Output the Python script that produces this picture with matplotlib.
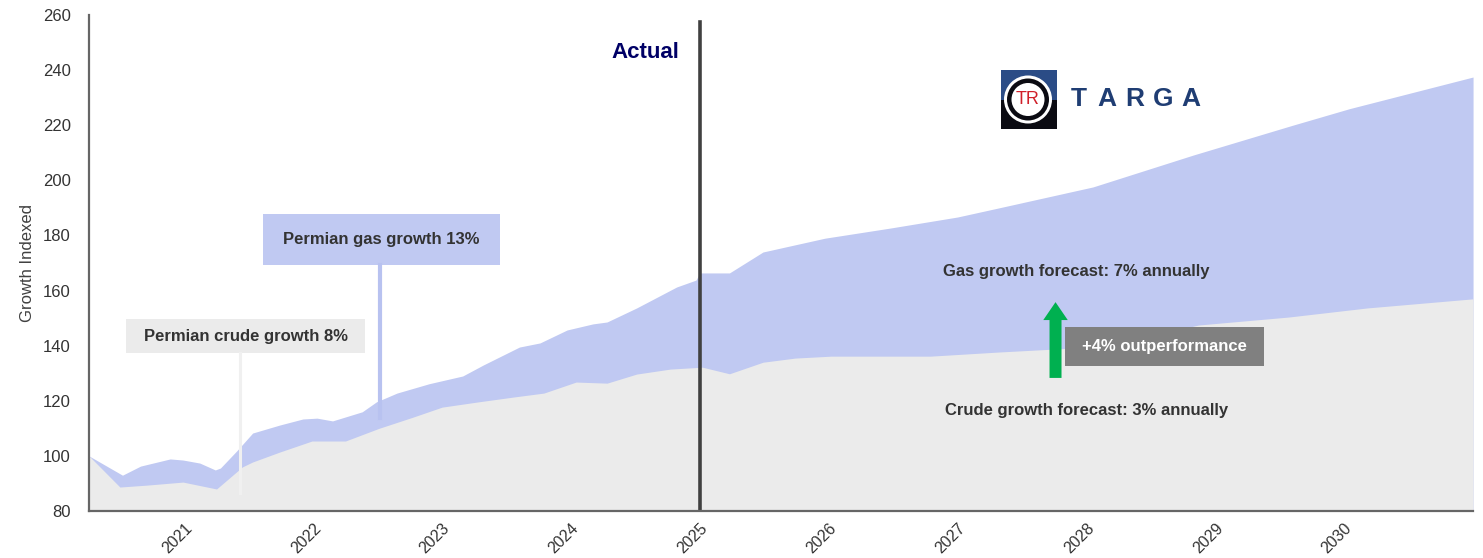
import matplotlib
matplotlib.use('Agg')
import matplotlib.pyplot as plt
from matplotlib.patches import Rectangle, FancyArrow, Circle

plt.rcParams['font.family'] = ['Liberation Sans', 'DejaVu Sans']

# Permian gas volumes, indexed (start = 100)
gas_x = [2020.26, 2020.52, 2020.66, 2020.89, 2020.99, 2021.12, 2021.24, 2021.28,
         2021.41, 2021.53, 2021.74, 2021.92, 2022.03, 2022.15, 2022.38, 2022.49,
         2022.65, 2022.90, 2023.16, 2023.32, 2023.60, 2023.76, 2023.97, 2024.17,
         2024.28, 2024.51, 2024.82, 2024.97, 2025.00, 2025.23, 2025.49, 2025.97,
         2026.48, 2027.00, 2027.32, 2028.05, 2028.83, 2029.60, 2030.04, 2031.00]
gas_y = [100, 93, 96.3, 98.9, 98.5, 97.4, 94.9, 95.6,
         102, 108.3, 111.2, 113.4, 113.7, 112.7, 116, 119.6,
         122.8, 126.2, 129, 133, 139.5, 141, 145.7, 147.9,
         148.6, 153.7, 161.3, 163.8, 166.4, 166.4, 174, 179,
         182.7, 186.7, 190, 197.6, 209.2, 220, 226, 237.5]

# Permian crude volumes, indexed (start = 100)
crude_x = [2020.26, 2020.50, 2020.71, 2020.99, 2021.25, 2021.45, 2021.53, 2021.74,
           2021.99, 2022.25, 2022.51, 2022.77, 2023.00, 2023.28, 2023.56, 2023.79,
           2024.04, 2024.28, 2024.51, 2024.77, 2025.02, 2025.23, 2025.49, 2025.74,
           2026.02, 2026.79, 2027.32, 2027.84, 2028.44, 2028.87, 2029.57, 2030.18,
           2031.00]
crude_y = [100, 88.7, 89.4, 90.5, 88, 96, 97.8, 101.4,
           105.4, 105.4, 110, 114, 117.7, 119.6, 121.4, 122.8,
           126.8, 126.4, 129.7, 131.5, 132.2, 129.8, 134, 135.5,
           136.2, 136.2, 137.7, 139, 142.8, 147.5, 150.4, 153.7,
           157]

years = [2021, 2022, 2023, 2024, 2025, 2026, 2027, 2028, 2029, 2030]
y_ticks = [80, 100, 120, 140, 160, 180, 200, 220, 240, 260]

BLUE = '#c0c9f2'
GREY = '#ebebeb'
TXT = '#333333'

fig = plt.figure(figsize=(14.83, 5.58), dpi=100)
ax = fig.add_axes([0.060, 0.0842, 0.9333, 0.8889])

ax.fill_between(gas_x, 80, gas_y, color=BLUE, lw=0, zorder=1)
ax.fill_between(crude_x, 80, crude_y, color=GREY, lw=0, zorder=2)

ax.set_xlim(2020.26, 2031.0)
ax.set_ylim(80, 260)
ax.set_xticks(years)
ax.set_xticklabels([str(y) for y in years], rotation=45, ha='right',
                   rotation_mode='anchor', fontsize=11.5, color='#333333')
ax.set_yticks(y_ticks)
ax.set_yticklabels([str(v) for v in y_ticks], fontsize=12, color='#333333')
ax.tick_params(length=0)
ax.tick_params(axis='y', pad=13)
ax.tick_params(axis='x', pad=7)
ax.set_ylabel('Growth Indexed', fontsize=12, color='#404040', labelpad=6)

for side in ['top', 'right']:
    ax.spines[side].set_visible(False)
for side in ['left', 'bottom']:
    ax.spines[side].set_color('#666666')
    ax.spines[side].set_linewidth(1.6)
    ax.spines[side].set_zorder(6)

# actual / forecast divider
ax.axvline(2025.0, ymin=0, ymax=0.986, color='#404040', lw=2.6, zorder=5)
ax.text(2024.58, 246.5, 'Actual', fontsize=16, fontweight='bold',
        color='#000066', ha='center', va='center')

# historical growth callouts
ax.add_patch(Rectangle((2020.55, 137.3), 1.85, 12.4, color=GREY, lw=0, zorder=3))
ax.text(2021.475, 143.5, 'Permian crude growth 8%', fontsize=12, fontweight='bold',
        color=TXT, ha='center', va='center', zorder=4)
ax.plot([2021.43, 2021.43], [86.5, 137.3], color='#f0f0f0', lw=2.2, zorder=3)

ax.add_patch(Rectangle((2021.61, 169.3), 1.84, 18.5, color=BLUE, lw=0, zorder=3))
ax.text(2022.53, 178.5, 'Permian gas growth 13%', fontsize=12, fontweight='bold',
        color=TXT, ha='center', va='center', zorder=4)
ax.plot([2022.52, 2022.52], [113.7, 169.3], color='#b8c2f0', lw=3, zorder=3)

# forecast callouts
ax.text(2027.92, 167.1, 'Gas growth forecast: 7% annually', fontsize=12,
        fontweight='bold', color=TXT, ha='center', va='center', zorder=4)
ax.text(2028.0, 116.6, 'Crude growth forecast: 3% annually', fontsize=12,
        fontweight='bold', color=TXT, ha='center', va='center', zorder=4)
ax.add_patch(FancyArrow(2027.76, 128.3, 0, 27.5, width=0.093, head_width=0.19,
                        head_length=6.5, length_includes_head=True,
                        color='#00b050', lw=0, zorder=4))
ax.add_patch(Rectangle((2027.83, 132.6), 1.55, 14.2, color='#808080', lw=0, zorder=4))
ax.text(2028.605, 139.7, '+4% outperformance', fontsize=12, fontweight='bold',
        color='white', ha='center', va='center', zorder=5)

# company logo
W, H = 1483, 558
lax = fig.add_axes([1001 / W, 1 - 129 / H, 56 / W, 59 / H])
lax.set_xlim(0, 56)
lax.set_ylim(0, 59)
lax.axis('off')
lax.add_patch(Rectangle((0, 29), 56, 30, color='#2b4c86', lw=0))
lax.add_patch(Rectangle((0, 0), 56, 29, color='#0b0b12', lw=0))
lax.add_patch(Circle((27, 29.5), 24, color='white', lw=0))
lax.add_patch(Circle((27, 29.5), 21, color='#0b0b12', lw=0))
lax.add_patch(Circle((27, 29.5), 16.5, color='white', lw=0))
lax.text(27, 29.5, 'TR', fontsize=13, color='#d0202a', ha='center', va='center')

for i, ch in enumerate('TARGA'):
    fig.text((1079 + i * 28) / W, 1 - 99 / H, ch, fontsize=19, fontweight='bold',
             color='#1f3d73', ha='center', va='center')

plt.savefig('out.png', dpi=100)
plt.close()
